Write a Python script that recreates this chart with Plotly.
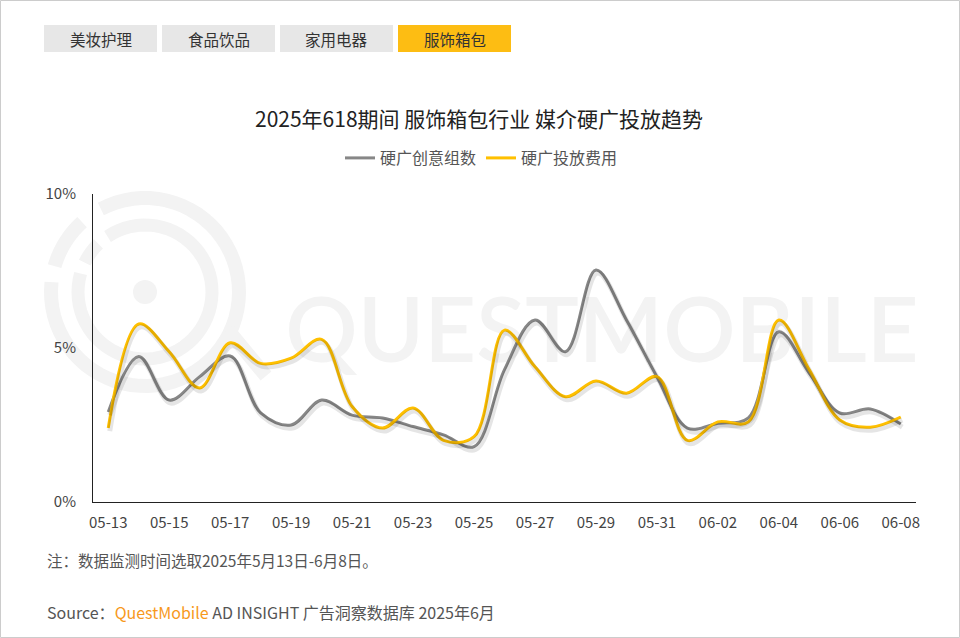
import numpy as np
import plotly.graph_objects as go

# ---------------- data ----------------
dates = ["05-13", "05-14", "05-15", "05-16", "05-17", "05-18", "05-19", "05-20", "05-21",
         "05-22", "05-23", "05-24", "05-25", "05-26", "05-27", "05-28", "05-29", "05-30",
         "05-31", "06-01", "06-02", "06-03", "06-04", "06-05", "06-06", "06-07", "06-08"]
creative_groups = [2.92, 4.72, 3.31, 4.07, 4.74, 2.89, 2.50, 3.31, 2.82,
                   2.73, 2.45, 2.18, 1.80, 4.30, 5.91, 4.88, 7.53, 5.91,
                   4.07, 2.40, 2.56, 2.73, 5.53, 4.18, 2.89, 3.02, 2.53]
ad_spend = [2.40, 5.78, 4.88, 3.70, 5.17, 4.50, 4.67, 5.28, 3.10,
            2.40, 3.05, 2.00, 2.12, 5.58, 4.39, 3.42, 3.93, 3.53,
            4.07, 2.00, 2.60, 2.60, 5.91, 4.29, 2.66, 2.43, 2.76]
x_ticks = dates[::2]
y_ticks = [0, 5, 10]
y_tick_text = ["0%", "5%", "10%"]
series_names = ["硬广创意组数", "硬广投放费用"]
tabs = ["美妆护理", "食品饮品", "家用电器", "服饰箱包"]
title_text = "2025年618期间 服饰箱包行业 媒介硬广投放趋势"
note_text = "注：数据监测时间选取2025年5月13日-6月8日。"

# ---------------- layout geometry ----------------
W, H = 960, 638
L, R, T, B = 93, 916, 194, 502
PW, PH = R - L, B - T


def px(x):
    return (x - L) / PW


def py(y):
    return (B - y) / PH


FONT = "Noto Sans CJK SC"
GRAY = "#878787"
YELLOW = "#FFC000"
WM = "#f3f3f3"

fig = go.Figure()

# soft shadows
for vals in (creative_groups, ad_spend):
    fig.add_trace(go.Scatter(x=dates, y=vals, mode="lines",
                             line=dict(color="rgba(0,0,0,0.10)", width=5, shape="spline", smoothing=1),
                             xaxis="x2", yaxis="y2", showlegend=False, hoverinfo="skip"))

fig.add_trace(go.Scatter(x=dates, y=creative_groups, mode="lines", name=series_names[0],
                         line=dict(color=GRAY, width=3, shape="spline", smoothing=1)))
fig.add_trace(go.Scatter(x=dates, y=ad_spend, mode="lines", name=series_names[1],
                         line=dict(color=YELLOW, width=3, shape="spline", smoothing=1)))

shapes = []
# outer border
shapes.append(dict(type="rect", xref="paper", yref="paper", x0=px(0.5), x1=px(W - 0.5),
                   y0=py(0.5), y1=py(H - 0.5), line=dict(color="#cccccc", width=1), layer="below"))

# watermark word (shape label, kept below the lines)
shapes.append(dict(type="rect", xref="paper", yref="paper", x0=px(282), x1=px(922),
                   y0=py(290), y1=py(362), line=dict(width=0), fillcolor="rgba(0,0,0,0)",
                   layer="below",
                   label=dict(text="QUESTMOBILE", textposition="middle center",
                              font=dict(family="Lato", size=90, color=WM, weight=600))))


# watermark logo (arcs with gaps)
def arc_path(cx, cy, r, a0, a1, n=60):
    a = np.radians(np.linspace(a0, a1, n))
    xs = cx + r * np.cos(a)
    ys = cy + r * np.sin(a)
    return "M " + " L ".join(f"{px(x):.5f},{py(y):.5f}" for x, y in zip(xs, ys))


cx, cy = 145, 292
for r, segs, w in [(94, [(-118, 186), (196, 228)], 14), (67, [(-124, 196), (206, 226)], 13)]:
    for a0, a1 in segs:
        shapes.append(dict(type="path", xref="paper", yref="paper", path=arc_path(cx, cy, r, a0, a1),
                           line=dict(color=WM, width=w), layer="below"))
shapes.append(dict(type="path", xref="paper", yref="paper",
                   path=f"M {px(228):.5f},{py(330):.5f} L {px(266):.5f},{py(376):.5f}",
                   line=dict(color=WM, width=14), layer="below"))
shapes.append(dict(type="circle", xref="paper", yref="paper", x0=px(cx - 12), x1=px(cx + 12),
                   y0=py(cy - 12), y1=py(cy + 12), fillcolor=WM, line=dict(width=0), layer="below"))

# tabs
annotations = []
tab_x = [44, 162, 280, 398]
for i, (t, x0) in enumerate(zip(tabs, tab_x)):
    active = i == 3
    shapes.append(dict(type="rect", xref="paper", yref="paper", x0=px(x0), x1=px(x0 + 113),
                       y0=py(25), y1=py(52), fillcolor="#FDBD13" if active else "#E7E7E7",
                       line=dict(width=0), layer="below"))
    annotations.append(dict(text=t, xref="paper", yref="paper", x=px(x0 + 56.5), y=py(38.5),
                            showarrow=False, xanchor="center", yanchor="middle",
                            font=dict(family=FONT, size=15.5, color="#333333")))

annotations.append(dict(text=title_text, xref="paper", yref="paper", x=px(479), y=py(118),
                        showarrow=False, xanchor="center", yanchor="middle",
                        font=dict(family=FONT, size=21, color="#222222")))
annotations.append(dict(text=note_text, xref="paper", yref="paper", x=px(45), y=py(560),
                        showarrow=False, xanchor="left", yanchor="middle",
                        font=dict(family=FONT, size=15.5, color="#555555")))
annotations.append(dict(text="Source：<span style='color:#F7991C'>QuestMobile</span> AD INSIGHT 广告洞察数据库 2025年6月",
                        xref="paper", yref="paper", x=px(45), y=py(612),
                        showarrow=False, xanchor="left", yanchor="middle",
                        font=dict(family=FONT, size=16, color="#555555")))

dx = 1.5 / (PW / len(dates))
dy = 3 / (PH / 10)

fig.update_layout(
    width=W, height=H,
    margin=dict(l=L, r=W - R, t=T, b=H - B, pad=0),
    paper_bgcolor="white", plot_bgcolor="rgba(0,0,0,0)",
    font=dict(family=FONT, color="#444444"),
    showlegend=True,
    legend=dict(orientation="h", x=px(481.5), xanchor="center", y=py(158), yanchor="middle",
                font=dict(family=FONT, size=16, color="#555555"), bgcolor="rgba(0,0,0,0)",
                itemwidth=30, traceorder="normal"),
    xaxis=dict(type="category", categoryorder="array", categoryarray=dates,
               range=[-0.5, len(dates) - 0.5], tickvals=x_ticks, ticktext=x_ticks,
               showline=True, linecolor="#222222", linewidth=1, showgrid=False, zeroline=False,
               ticks="", ticklabelstandoff=7, tickfont=dict(family=FONT, size=15, color="#444444")),
    yaxis=dict(range=[0, 10], tickvals=y_ticks, ticktext=y_tick_text, showline=True,
               linecolor="#222222", linewidth=1, showgrid=False, zeroline=False, ticks="",
               ticklabelstandoff=13, tickfont=dict(family=FONT, size=15, color="#444444")),
    xaxis2=dict(type="category", categoryorder="array", categoryarray=dates, overlaying="x",
                range=[-0.5 - dx, len(dates) - 0.5 - dx], visible=False),
    yaxis2=dict(range=[dy, 10 + dy], overlaying="y", visible=False),
    shapes=shapes,
    annotations=annotations,
    hovermode=False,
)

fig.write_html("out.html", config={"displayModeBar": False},
               post_script="document.body.style.margin='0px';")
